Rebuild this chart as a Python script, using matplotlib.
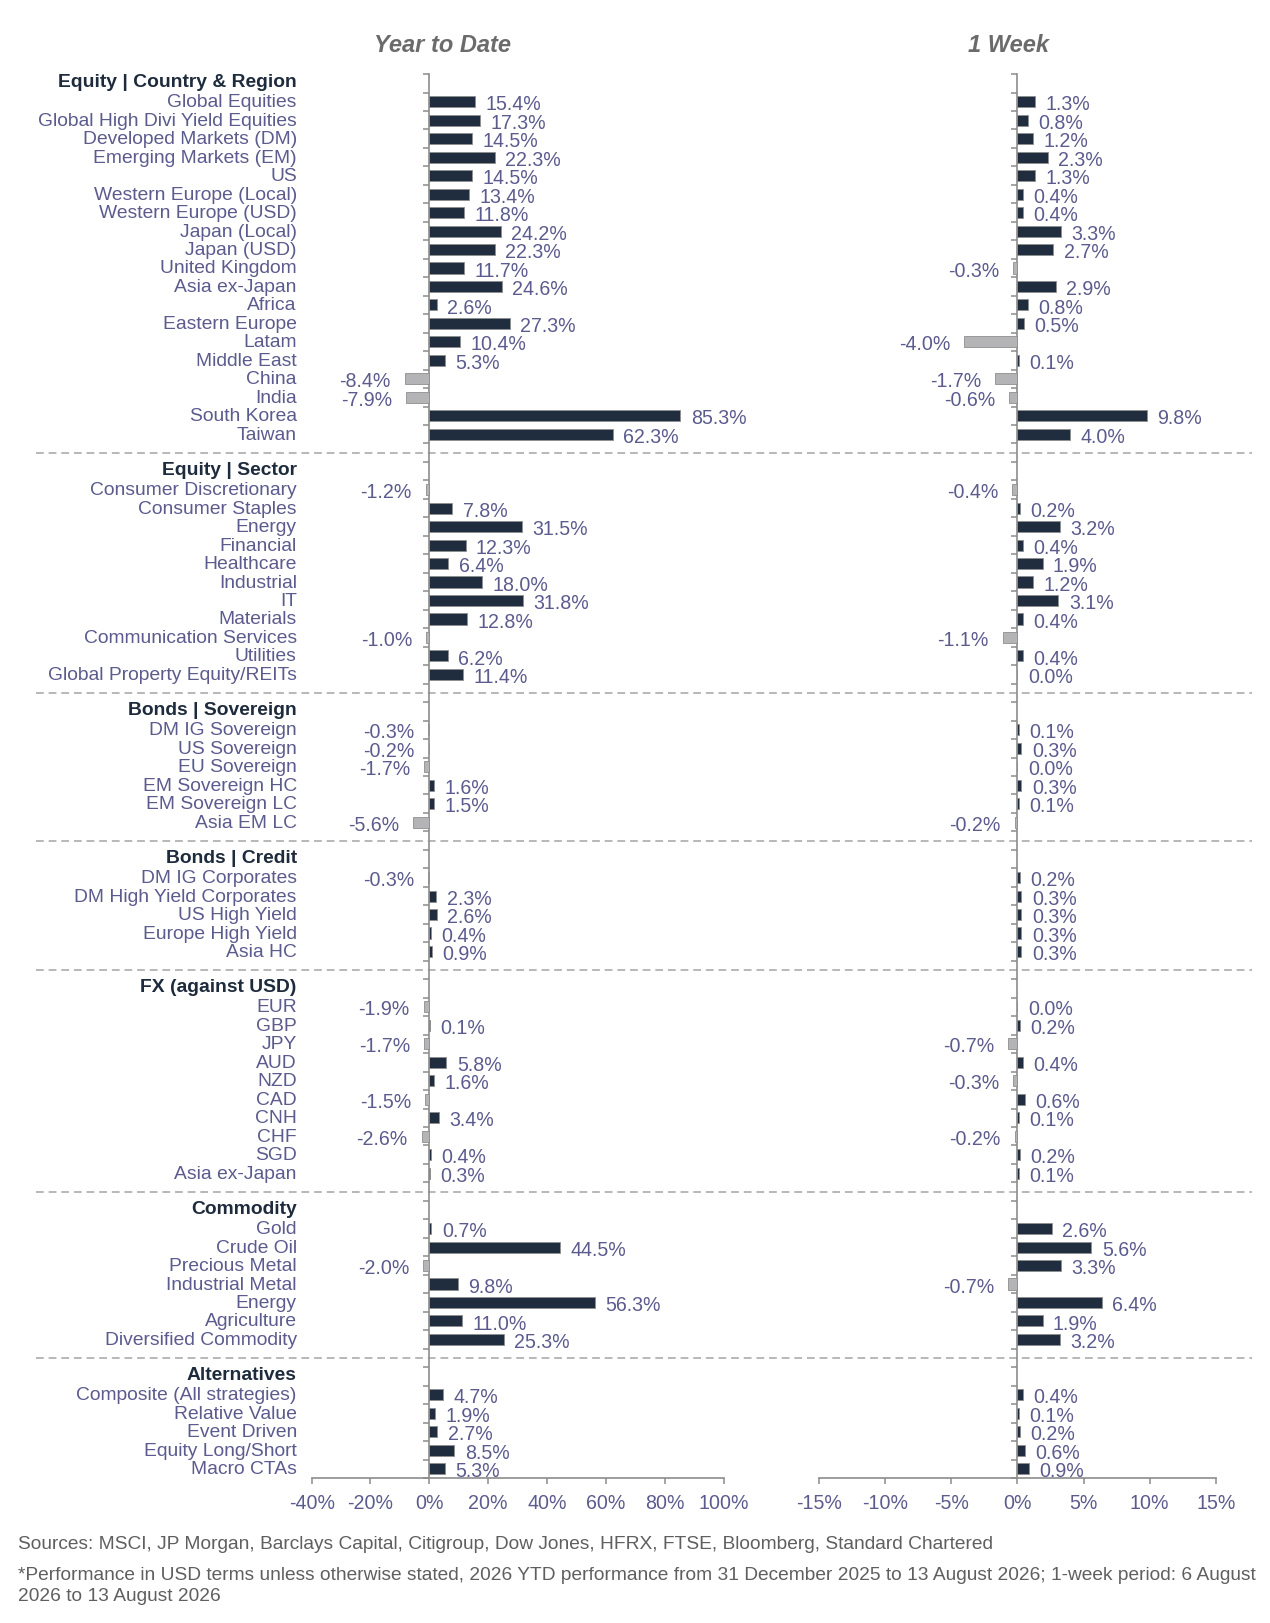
import numpy as np
import matplotlib
matplotlib.use("Agg")
import matplotlib.pyplot as plt
from matplotlib.transforms import blended_transform_factory

plt.rcParams['font.family'] = ['Liberation Sans', 'DejaVu Sans']

# ---- data (YTD %, 1 week %) ----
region_names = ["Global Equities", "Global High Divi Yield Equities", "Developed Markets (DM)",
                "Emerging Markets (EM)", "US", "Western Europe (Local)", "Western Europe (USD)",
                "Japan (Local)", "Japan (USD)", "United Kingdom", "Asia ex-Japan", "Africa",
                "Eastern Europe", "Latam", "Middle East", "China", "India", "South Korea", "Taiwan"]
region_ytd = [15.4, 17.3, 14.5, 22.3, 14.5, 13.4, 11.8, 24.2, 22.3, 11.7, 24.6, 2.6,
              27.3, 10.4, 5.3, -8.4, -7.9, 85.3, 62.3]
region_1w = [1.3, 0.8, 1.2, 2.3, 1.3, 0.4, 0.4, 3.3, 2.7, -0.3, 2.9, 0.8,
             0.5, -4.0, 0.1, -1.7, -0.6, 9.8, 4.0]

sector_names = ["Consumer Discretionary", "Consumer Staples", "Energy", "Financial", "Healthcare",
                "Industrial", "IT", "Materials", "Communication Services", "Utilities",
                "Global Property Equity/REITs"]
sector_ytd = [-1.2, 7.8, 31.5, 12.3, 6.4, 18.0, 31.8, 12.8, -1.0, 6.2, 11.4]
sector_1w = [-0.4, 0.2, 3.2, 0.4, 1.9, 1.2, 3.1, 0.4, -1.1, 0.4, 0.0]

sov_names = ["DM IG Sovereign", "US Sovereign", "EU Sovereign", "EM Sovereign HC",
             "EM Sovereign LC", "Asia EM LC"]
sov_ytd = [-0.3, -0.2, -1.7, 1.6, 1.5, -5.6]
sov_1w = [0.1, 0.3, 0.0, 0.3, 0.1, -0.2]

credit_names = ["DM IG Corporates", "DM High Yield Corporates", "US High Yield",
                "Europe High Yield", "Asia HC"]
credit_ytd = [-0.3, 2.3, 2.6, 0.4, 0.9]
credit_1w = [0.2, 0.3, 0.3, 0.3, 0.3]

fx_names = ["EUR", "GBP", "JPY", "AUD", "NZD", "CAD", "CNH", "CHF", "SGD", "Asia ex-Japan"]
fx_ytd = [-1.9, 0.1, -1.7, 5.8, 1.6, -1.5, 3.4, -2.6, 0.4, 0.3]
fx_1w = [0.0, 0.2, -0.7, 0.4, -0.3, 0.6, 0.1, -0.2, 0.2, 0.1]

comm_names = ["Gold", "Crude Oil", "Precious Metal", "Industrial Metal", "Energy",
              "Agriculture", "Diversified Commodity"]
comm_ytd = [0.7, 44.5, -2.0, 9.8, 56.3, 11.0, 25.3]
comm_1w = [2.6, 5.6, 3.3, -0.7, 6.4, 1.9, 3.2]

alt_names = ["Composite (All strategies)", "Relative Value", "Event Driven",
             "Equity Long/Short", "Macro CTAs"]
alt_ytd = [4.7, 1.9, 2.7, 8.5, 5.3]
alt_1w = [0.4, 0.1, 0.2, 0.6, 0.9]

sections = [
    ("Equity | Country & Region", region_names, region_ytd, region_1w),
    ("Equity | Sector", sector_names, sector_ytd, sector_1w),
    ("Bonds | Sovereign", sov_names, sov_ytd, sov_1w),
    ("Bonds | Credit", credit_names, credit_ytd, credit_1w),
    ("FX (against USD)", fx_names, fx_ytd, fx_1w),
    ("Commodity", comm_names, comm_ytd, comm_1w),
    ("Alternatives", alt_names, alt_ytd, alt_1w),
]

NAVY = "#1f2d3f"
GREY_BAR = "#b4b4b6"
TXT = "#5b5b8e"
HEAD = "#1e2b3c"
AXIS = "#8c8c8c"
FS = 13.9
VFS = 14.1

# flatten into rows: header, items, blank gap row between sections
labels, kinds, ytd, wk = [], [], [], []
for i, (title, names, a, b) in enumerate(sections):
    if i > 0:
        labels.append("")
        kinds.append("gap")
        ytd.append(np.nan)
        wk.append(np.nan)
    labels.append(title)
    kinds.append("head")
    ytd.append(np.nan)
    wk.append(np.nan)
    for n, x, w in zip(names, a, b):
        labels.append(n)
        kinds.append("item")
        ytd.append(x)
        wk.append(w)

n = len(labels)
rows = np.arange(n)

fig = plt.figure(figsize=(12.7, 16.24), dpi=100)
ax1 = fig.add_axes([0.2454, 0.0893, 0.3243, 0.8645])
ax2 = fig.add_axes([0.6449, 0.0893, 0.3124, 0.8645])


def panel(ax, vals, lo, hi, step):
    v = np.array(vals, float)
    keep = ~np.isnan(v)
    cols = [NAVY if x >= 0 else GREY_BAR for x in v[keep]]
    ax.barh(rows[keep], v[keep], height=0.6, color=cols, edgecolor="#8e8e8e",
            linewidth=0.6, zorder=3)
    for y, x in zip(rows[keep], v[keep]):
        if x >= 0:
            ax.annotate(f"{x:.1f}%", (x, y), xytext=(7.5, -1.5), textcoords="offset points",
                        ha="left", va="center", fontsize=VFS, color=TXT)
        else:
            ax.annotate(f"{x:.1f}%", (x, y), xytext=(-10, -1.5), textcoords="offset points",
                        ha="right", va="center", fontsize=VFS, color=TXT)
    ax.set_xlim(lo, hi)
    ax.set_ylim(n - 0.5, -0.5)
    ax.patch.set_visible(False)
    for s in ["top", "right"]:
        ax.spines[s].set_visible(False)
    ax.spines["left"].set_position(("data", 0))
    ax.spines["left"].set_color(AXIS)
    ax.spines["bottom"].set_color(AXIS)
    ax.spines["left"].set_linewidth(1.2)
    ax.spines["bottom"].set_linewidth(1.2)
    ax.set_yticks(np.arange(n + 1) - 0.5)
    ax.set_yticklabels([])
    ax.tick_params(axis="y", direction="out", length=4, width=1.1, color=AXIS)
    ticks = np.arange(lo, hi + 1, step)
    ax.set_xticks(ticks)
    ax.set_xticklabels([f"{t:.0f}%" for t in ticks])
    ax.tick_params(axis="x", direction="out", length=4, width=1.1, color=AXIS,
                   labelcolor=TXT, labelsize=VFS, pad=6.5)


panel(ax1, ytd, -40, 100, 20)
panel(ax2, wk, -15, 15, 5)

# category labels and section headers
tr = blended_transform_factory(ax1.transAxes, ax1.transData)
for y, lab, k in zip(rows, labels, kinds):
    if k == "item":
        ax1.text(-0.036, y, lab, transform=tr, ha="right", va="center",
                 fontsize=FS, color=TXT)
    elif k == "head":
        ax1.text(-0.036, y - 0.1, lab, transform=tr, ha="right", va="center",
                 fontsize=FS, color=HEAD, fontweight="bold")
    else:
        ax1.axhline(y, xmin=-0.6695, xmax=2.283, clip_on=False, color="#b8b8b8",
                    linestyle=(0, (4, 2.5)), linewidth=1.4, zorder=1)

fig.text(443 / 1270, 1 - 46 / 1624, "Year to Date", ha="center", va="center",
         fontsize=17, fontweight="bold", style="italic", color="#6b6b6b")
fig.text(1008 / 1270, 1 - 46 / 1624, "1 Week", ha="center", va="center",
         fontsize=17, fontweight="bold", style="italic", color="#6b6b6b")

fig.text(18 / 1270, 1 - 1545 / 1624,
         "Sources: MSCI, JP Morgan, Barclays Capital, Citigroup, Dow Jones, HFRX, FTSE, "
         "Bloomberg, Standard Chartered",
         ha="left", va="center", fontsize=13.75, color="#5f5f5f")
fig.text(18 / 1270, 1 - 1586 / 1624,
         "*Performance in USD terms unless otherwise stated, 2026 YTD performance from "
         "31 December 2025 to 13 August 2026; 1-week period: 6 August\n2026 to 13 August 2026",
         ha="left", va="center", fontsize=13.75, color="#5f5f5f", linespacing=1.25)

fig.savefig("out.png", dpi=100)
